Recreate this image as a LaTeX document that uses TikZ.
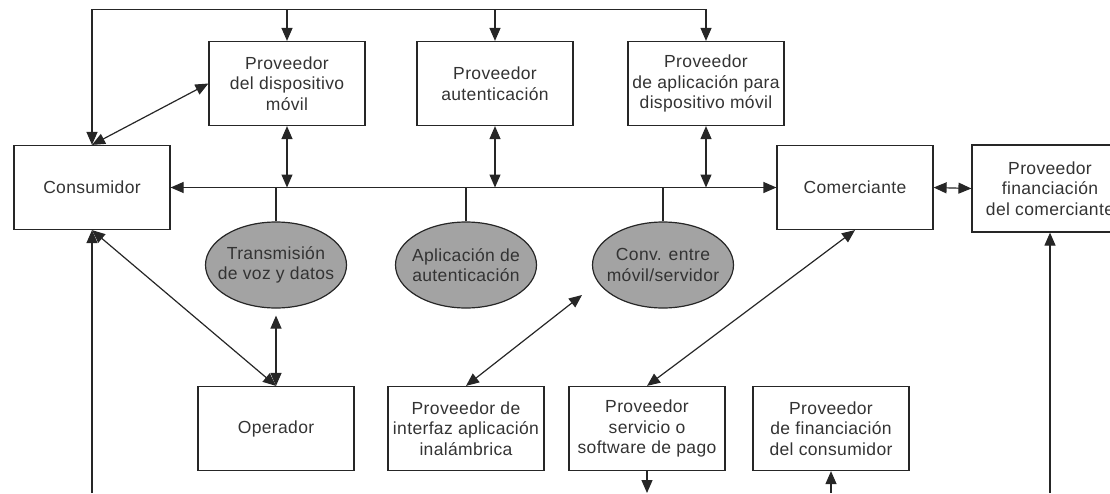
\documentclass[tikz,border=0pt]{standalone}
\usepackage{fontspec}
\setmainfont{Liberation Sans}[LetterSpace=2.0]
\usepackage{tikz}
\usetikzlibrary{arrows.meta,shapes.geometric}

\tikzset{
  caja/.style={draw=black!85, line width=1.2pt, minimum width=156pt, minimum height=84pt,
    align=center, inner sep=2pt, text=black!80, font=\fontsize{17.5}{20.5}\selectfont},
  elip/.style={ellipse, draw=black!85, line width=1.2pt, fill=black!36, minimum width=141pt,
    minimum height=86pt, inner xsep=-15pt, inner ysep=0pt, align=center, text=black!80,
    font=\fontsize{17.5}{20.5}\selectfont},
  linea/.style={draw=black!85, line width=1.2pt},
  flecha/.style={linea, -{Triangle[length=13pt,width=11pt]}},
  doble/.style={linea, {Triangle[length=13pt,width=11pt]}-{Triangle[length=13pt,width=11pt]}}
}

\begin{document}
\begin{tikzpicture}[x=1pt,y=-1pt]
  \useasboundingbox (0,0) rectangle (1110,493);
  \node[caja] (cons) at (92,187.5) {Consumidor};
  \node[caja] (pdisp) at (287,83.5) {Proveedor\\del dispositivo\\móvil};
  \node[caja] (paut) at (495,83.5) {Proveedor\\autenticación};
  \node[caja] (papp) at (706,83.5) {Proveedor\\de aplicación para\\dispositivo móvil};
  \node[caja] (com) at (855,187.5) {Comerciante};
  \node[caja,minimum height=87pt] (pfin) at (1050,188.5) {Proveedor\\financiación\\del comerciante};
  \node[elip] (trans) at (276,265) {Transmisión\\de voz y datos};
  \node[elip] (aplic) at (466,265) {Aplicación de\\autenticación};
  \node[elip] (conv) at (663,265) {Conv. entre\\móvil/servidor};
  \node[caja] (oper) at (276,428.5) {Operador};
  \node[caja] (interf) at (466,428.5) {Proveedor de\\interfaz aplicación\\inalámbrica};
  \node[caja] (serv) at (647,428.5) {Proveedor\\servicio o\\software de pago};
  \node[caja] (fincons) at (831,428.5) {Proveedor\\de financiación\\del consumidor};
  \coordinate (arriba) at (0,9.3);
  \coordinate (abajo) at (0,493);
  \coordinate (convin) at (582,295);
  \draw[linea] (cons.north |- arriba) -- (papp.north |- arriba);
  \foreach \n in {cons,pdisp,paut,papp} \draw[flecha] (\n.north |- arriba) -- (\n.north);
  \draw[doble] (cons.east) -- (com.west);
  \foreach \n in {pdisp,paut,papp} \draw[doble] (\n.south) -- (\n.south |- cons.east);
  \foreach \n in {trans,aplic,conv} \draw[linea] (\n.north) -- (\n.north |- cons.east);
  \draw[doble] (com.east) -- (pfin.west);
  \draw[doble] (cons.north) -- (pdisp.west);
  \draw[doble] (cons.south) -- (oper.north);
  \draw[doble,shorten <=7pt] (trans.south) -- (oper.north);
  \draw[doble] (interf.north) -- (convin);
  \draw[doble] (serv.north) -- (com.south);
  \draw[flecha] (cons.south |- abajo) -- (cons.south);
  \draw[flecha] (serv.south) -- (serv.south |- abajo);
  \draw[flecha] (fincons.south |- abajo) -- (fincons.south);
  \draw[flecha] (pfin.south |- abajo) -- (pfin.south);
\end{tikzpicture}
\end{document}
